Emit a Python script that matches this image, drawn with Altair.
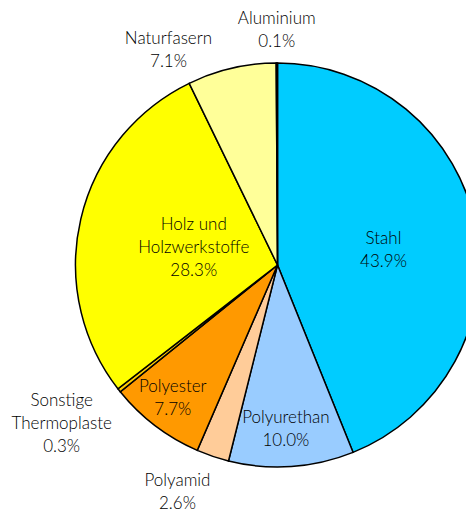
import altair as alt
import pandas as pd

categories = ["Stahl", "Polyurethan", "Polyamid", "Polyester",
              "Sonstige Thermoplaste", "Holz und Holzwerkstoffe",
              "Naturfasern", "Aluminium"]
values = [43.9, 10.0, 2.6, 7.7, 0.3, 28.3, 7.1, 0.1]
label_names = ["Stahl", "Polyurethan", "Polyamid", "Polyester",
               "Sonstige\nThermoplaste", "Holz und\nHolzwerkstoffe",
               "Naturfasern", "Aluminium"]
colors = ["#00CCFF", "#99CCFF", "#FFCC99", "#FF9900",
          "#FFCC00", "#FFFF00", "#FFFF99", "#CCCCCC"]

# label placement style: radius from centre, extra x/y offset (pixels)
LABEL_STYLE = {
    "Stahl": (108, 0, 6),
    "Polyurethan": (165, -3, 0),
    "Polyamid": (240, -23, 0),
    "Polyester": (168, -3, 0),
    "Sonstige Thermoplaste": (265, -8, -5),
    "Holz und Holzwerkstoffe": (86, 0, 3),
    "Naturfasern": (220, -59, 0),
    "Aluminium": (236, 0, 1.5),
}
LINE_H = 23
CX, CY, R = 269.5, 257, 202

labels = [f"{n}\n{v:.1f}%" for n, v in zip(label_names, values)]
df = pd.DataFrame({
    "cat": categories,
    "value": values,
    "order": list(range(len(categories))),
    "label": labels,
    "nl": [s.count("\n") for s in labels],
    "r": [LABEL_STYLE[c][0] for c in categories],
    "ox": [LABEL_STYLE[c][1] for c in categories],
    "oy": [LABEL_STYLE[c][2] for c in categories],
})

base = alt.Chart(df)

arcs = base.mark_arc(outerRadius=R, stroke="black", strokeWidth=1.5).encode(
    theta=alt.Theta("value:Q", stack=True),
    color=alt.Color("cat:N", scale=alt.Scale(domain=categories, range=colors), legend=None),
    order=alt.Order("order:Q"),
    x=alt.value(CX),
    y=alt.value(CY),
)

texts = base.transform_window(
    cum="sum(value)", sort=[alt.SortField("order")], frame=[None, 0]
).transform_joinaggregate(
    total="sum(value)"
).transform_calculate(
    mid="(datum.cum - datum.value/2) / datum.total * 2 * PI",
).transform_calculate(
    px=f"{CX} + datum.r * sin(datum.mid) + datum.ox",
    py=f"{CY} - datum.r * cos(datum.mid) + datum.oy - datum.nl * {LINE_H / 2}",
).mark_text(
    lineBreak="\n", font="Lato", fontSize=17, fontWeight=300, color="#000000",
    align="center", baseline="middle", lineHeight=LINE_H
).encode(
    x=alt.X("px:Q", scale=None, axis=None),
    y=alt.Y("py:Q", scale=None, axis=None),
    text="label:N",
)

chart = alt.layer(arcs, texts).properties(
    width=458, height=505, padding=0,
    autosize=alt.AutoSizeParams(type="none"),
).configure_view(stroke=None)

chart.save("out.html", embed_options={"renderer": "svg", "actions": False})
